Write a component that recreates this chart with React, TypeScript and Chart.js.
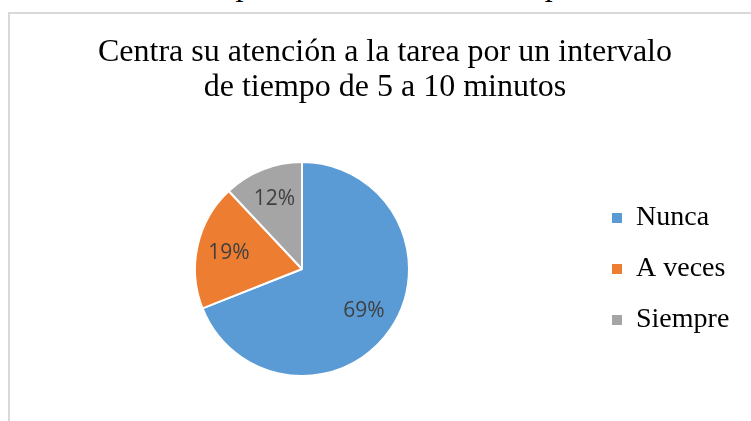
import React, { useEffect, useRef } from "react";
import { Chart, registerables } from "chart.js";

Chart.register(...registerables);

const categories = ["Nunca", "A veces", "Siempre"];
const percentages = [69, 19, 12];
const sliceColors = ["#5B9BD5", "#ED7D31", "#A5A5A5"];
const titleLines = [
  "Centra su atención a la tarea por un intervalo",
  "de tiempo de 5 a 10 minutos",
];
const captionText =
  "Centra su atención a la tarea por un intervalo de tiempo de 5 a 10 minutos";

const SERIF = "'Liberation Serif', 'Times New Roman', serif";

export default function App() {
  const ref = useRef<HTMLCanvasElement>(null);

  useEffect(() => {
    const canvas = ref.current;
    if (!canvas) return;

    Chart.defaults.font.family = SERIF;

    const legendWidthPlugin = {
      id: "legendWidth",
      afterInit(chart: any) {
        const lg = chart.legend;
        if (!lg) return;
        const orig = lg.fit.bind(lg);
        lg.fit = function () {
          orig();
          this.width = 166;
        };
      },
    };

    const pctLabels = {
      id: "pctLabels",
      afterDatasetsDraw(chart: any) {
        const ctx = chart.ctx;
        const meta = chart.getDatasetMeta(0);
        ctx.save();
        ctx.font = "21px 'Open Sans'";
        ctx.fillStyle = "#404040";
        ctx.textAlign = "center";
        ctx.textBaseline = "middle";
        meta.data.forEach((arc: any, i: number) => {
          const p = arc.getProps(["x", "y", "startAngle", "endAngle", "outerRadius"], true);
          const a = (p.startAngle + p.endAngle) / 2;
          const r = p.outerRadius * 0.7;
          ctx.fillText(percentages[i] + "%", p.x + Math.cos(a) * r, p.y + Math.sin(a) * r);
        });
        ctx.restore();
      },
    };

    const chart = new Chart(canvas, {
      type: "pie",
      data: {
        labels: categories,
        datasets: [
          {
            data: percentages,
            backgroundColor: sliceColors,
            borderColor: "#ffffff",
            borderWidth: 2,
          },
        ],
      },
      options: {
        responsive: false,
        animation: false,
        devicePixelRatio: 1,
        font: { family: SERIF },
        layout: { padding: { left: 5, right: 5, top: 0, bottom: 44 } },
        plugins: {
          title: {
            display: true,
            text: titleLines,
            color: "#000000",
            font: { family: SERIF, size: 32, weight: "normal", lineHeight: 35 / 32 },
            padding: { top: 21, bottom: 56 },
          },
          legend: {
            display: true,
            position: "right",
            fullSize: false,
            align: "center",
            labels: {
              color: "#000000",
              font: { family: SERIF, size: 28, weight: "normal" },
              boxWidth: 10,
              boxHeight: 10,
              padding: 23,
              generateLabels: (c: any) =>
                (Chart as any).overrides.pie.plugins.legend.labels
                  .generateLabels(c)
                  .map((l: any) => ({ ...l, lineWidth: 0 })),
            },
          },
          tooltip: { enabled: false },
        },
      },
      plugins: [legendWidthPlugin, pctLabels],
    });

    return () => chart.destroy();
  }, []);

  return (
    <div
      style={{
        position: "fixed",
        left: 0,
        top: 0,
        width: 751,
        height: 421,
        overflow: "hidden",
        background: "#ffffff",
      }}
    >
      <div
        style={{
          position: "absolute",
          left: -145,
          top: -32,
          whiteSpace: "nowrap",
          fontFamily: SERIF,
          fontStyle: "italic",
          fontSize: 32,
          lineHeight: "32px",
          color: "#000000",
        }}
      >
        {captionText}
      </div>
      <div
        style={{
          position: "absolute",
          left: 8,
          top: 12,
          width: 750,
          height: 407,
          border: "2px solid #d9d9d9",
          background: "#ffffff",
        }}
      >
        <canvas ref={ref} width={750} height={407} style={{ display: "block", width: 750, height: 407 }} />
      </div>
    </div>
  );
}
